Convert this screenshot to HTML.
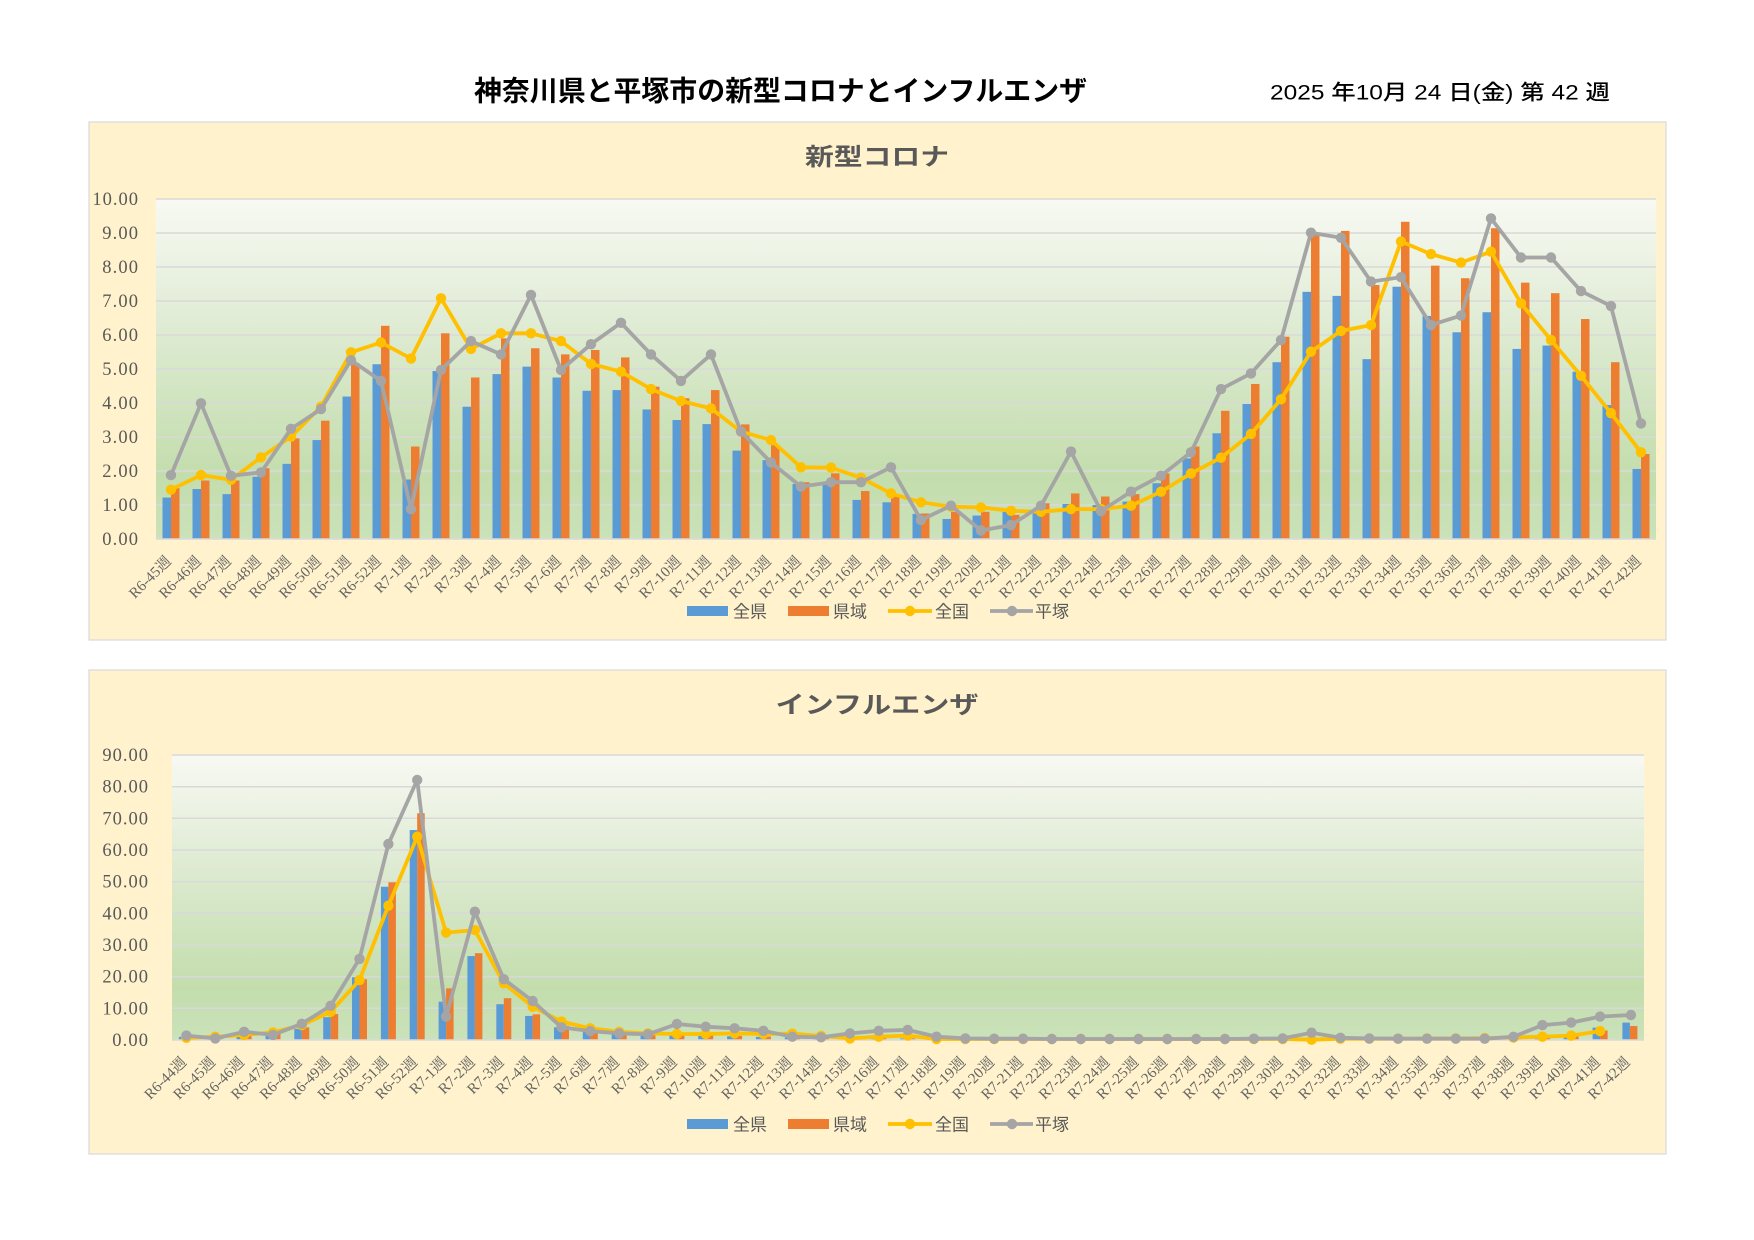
<!DOCTYPE html>
<html lang="ja"><head><meta charset="utf-8"><title>神奈川県と平塚市の新型コロナとインフルエンザ</title>
<style>html,body{margin:0;padding:0;background:#fff}svg{display:block}</style></head>
<body>
<svg xmlns="http://www.w3.org/2000/svg" width="1754" height="1240" viewBox="0 0 1754 1240">
<defs>
<linearGradient id="pg" x1="0" y1="0" x2="0" y2="1">
<stop offset="0" stop-color="#F8F9F3"/><stop offset="0.3" stop-color="#E4EEDA"/><stop offset="0.6" stop-color="#D0E4BF"/><stop offset="0.82" stop-color="#C3DDAD"/><stop offset="1" stop-color="#CBE2BA"/>
</linearGradient>
<marker id="my" viewBox="-6 -6 12 12" markerWidth="12" markerHeight="12" refX="0" refY="0" markerUnits="userSpaceOnUse"><circle r="5.2" fill="#FFC000"/></marker>
<marker id="mg" viewBox="-6 -6 12 12" markerWidth="12" markerHeight="12" refX="0" refY="0" markerUnits="userSpaceOnUse"><circle r="5.2" fill="#A5A5A5"/></marker>
</defs>
<rect width="1754" height="1240" fill="#fff"/>
<text x="474" y="100.5" font-family="Liberation Sans, Noto Sans CJK JP, sans-serif" font-size="28" font-weight="bold" fill="#000" textLength="613" lengthAdjust="spacingAndGlyphs">神奈川県と平塚市の新型コロナとインフルエンザ</text>
<text x="1270" y="99.5" font-family="Liberation Sans, Noto Sans CJK JP, sans-serif" font-size="21" font-weight="500" fill="#000" textLength="340" lengthAdjust="spacingAndGlyphs">2025 年10月 24 日(金) 第 42 週</text>

<!-- ===== Chart 1 ===== -->
<rect x="89" y="122" width="1577" height="518" fill="#FFF2CC" stroke="#D9D9D9" stroke-width="1.2"/>
<text x="877" y="165" text-anchor="middle" font-family="Liberation Sans, Noto Sans CJK JP, sans-serif" font-size="24" font-weight="bold" fill="#595959" textLength="144" lengthAdjust="spacingAndGlyphs">新型コロナ</text>
<rect x="156" y="199" width="1500" height="340" fill="url(#pg)"/>
<g stroke="#D9D9D9" stroke-width="1.5">
<line x1="156" y1="505" x2="1656" y2="505"/><line x1="156" y1="471" x2="1656" y2="471"/><line x1="156" y1="437" x2="1656" y2="437"/><line x1="156" y1="403" x2="1656" y2="403"/><line x1="156" y1="369" x2="1656" y2="369"/><line x1="156" y1="335" x2="1656" y2="335"/><line x1="156" y1="301" x2="1656" y2="301"/><line x1="156" y1="267" x2="1656" y2="267"/><line x1="156" y1="233" x2="1656" y2="233"/><line x1="156" y1="199" x2="1656" y2="199"/>
</g>
<g font-family="Liberation Serif, serif" font-size="18.5" fill="#595959" text-anchor="end" lengthAdjust="spacingAndGlyphs">
<text x="138" y="545" textLength="35.7">0.00</text><text x="138" y="511" textLength="35.7">1.00</text><text x="138" y="477" textLength="35.7">2.00</text><text x="138" y="443" textLength="35.7">3.00</text><text x="138" y="409" textLength="35.7">4.00</text><text x="138" y="375" textLength="35.7">5.00</text><text x="138" y="341" textLength="35.7">6.00</text><text x="138" y="307" textLength="35.7">7.00</text><text x="138" y="273" textLength="35.7">8.00</text><text x="138" y="239" textLength="35.7">9.00</text><text x="138" y="205" textLength="45.6">10.00</text>
</g>
<g transform="translate(0,539) scale(1,-34)">
<g fill="#5B9BD5">
<rect x="162.5" y="0" width="8.5" height="1.22"/><rect x="192.5" y="0" width="8.5" height="1.47"/><rect x="222.5" y="0" width="8.5" height="1.32"/><rect x="252.5" y="0" width="8.5" height="1.83"/><rect x="282.5" y="0" width="8.5" height="2.21"/><rect x="312.5" y="0" width="8.5" height="2.91"/><rect x="342.5" y="0" width="8.5" height="4.19"/><rect x="372.5" y="0" width="8.5" height="5.14"/><rect x="402.5" y="0" width="8.5" height="1.75"/><rect x="432.5" y="0" width="8.5" height="4.94"/><rect x="462.5" y="0" width="8.5" height="3.89"/><rect x="492.5" y="0" width="8.5" height="4.85"/><rect x="522.5" y="0" width="8.5" height="5.07"/><rect x="552.5" y="0" width="8.5" height="4.75"/><rect x="582.5" y="0" width="8.5" height="4.36"/><rect x="612.5" y="0" width="8.5" height="4.38"/><rect x="642.5" y="0" width="8.5" height="3.81"/><rect x="672.5" y="0" width="8.5" height="3.50"/><rect x="702.5" y="0" width="8.5" height="3.38"/><rect x="732.5" y="0" width="8.5" height="2.60"/><rect x="762.5" y="0" width="8.5" height="2.32"/><rect x="792.5" y="0" width="8.5" height="1.62"/><rect x="822.5" y="0" width="8.5" height="1.64"/><rect x="852.5" y="0" width="8.5" height="1.15"/><rect x="882.5" y="0" width="8.5" height="1.08"/><rect x="912.5" y="0" width="8.5" height="0.74"/><rect x="942.5" y="0" width="8.5" height="0.59"/><rect x="972.5" y="0" width="8.5" height="0.69"/><rect x="1002.5" y="0" width="8.5" height="0.80"/><rect x="1032.5" y="0" width="8.5" height="0.85"/><rect x="1062.5" y="0" width="8.5" height="1.03"/><rect x="1092.5" y="0" width="8.5" height="1.00"/><rect x="1122.5" y="0" width="8.5" height="1.10"/><rect x="1152.5" y="0" width="8.5" height="1.64"/><rect x="1182.5" y="0" width="8.5" height="2.37"/><rect x="1212.5" y="0" width="8.5" height="3.11"/><rect x="1242.5" y="0" width="8.5" height="3.97"/><rect x="1272.5" y="0" width="8.5" height="5.20"/><rect x="1302.5" y="0" width="8.5" height="7.27"/><rect x="1332.5" y="0" width="8.5" height="7.15"/><rect x="1362.5" y="0" width="8.5" height="5.29"/><rect x="1392.5" y="0" width="8.5" height="7.42"/><rect x="1422.5" y="0" width="8.5" height="6.56"/><rect x="1452.5" y="0" width="8.5" height="6.08"/><rect x="1482.5" y="0" width="8.5" height="6.67"/><rect x="1512.5" y="0" width="8.5" height="5.59"/><rect x="1542.5" y="0" width="8.5" height="5.69"/><rect x="1572.5" y="0" width="8.5" height="4.92"/><rect x="1602.5" y="0" width="8.5" height="3.94"/><rect x="1632.5" y="0" width="8.5" height="2.06"/>
</g>
<g fill="#ED7D31">
<rect x="171" y="0" width="8.5" height="1.50"/><rect x="201" y="0" width="8.5" height="1.72"/><rect x="231" y="0" width="8.5" height="1.72"/><rect x="261" y="0" width="8.5" height="2.08"/><rect x="291" y="0" width="8.5" height="2.96"/><rect x="321" y="0" width="8.5" height="3.48"/><rect x="351" y="0" width="8.5" height="5.17"/><rect x="381" y="0" width="8.5" height="6.27"/><rect x="411" y="0" width="8.5" height="2.72"/><rect x="441" y="0" width="8.5" height="6.05"/><rect x="471" y="0" width="8.5" height="4.75"/><rect x="501" y="0" width="8.5" height="5.90"/><rect x="531" y="0" width="8.5" height="5.61"/><rect x="561" y="0" width="8.5" height="5.43"/><rect x="591" y="0" width="8.5" height="5.56"/><rect x="621" y="0" width="8.5" height="5.34"/><rect x="651" y="0" width="8.5" height="4.48"/><rect x="681" y="0" width="8.5" height="4.14"/><rect x="711" y="0" width="8.5" height="4.38"/><rect x="741" y="0" width="8.5" height="3.37"/><rect x="771" y="0" width="8.5" height="2.76"/><rect x="801" y="0" width="8.5" height="1.67"/><rect x="831" y="0" width="8.5" height="1.93"/><rect x="861" y="0" width="8.5" height="1.41"/><rect x="891" y="0" width="8.5" height="1.25"/><rect x="921" y="0" width="8.5" height="0.75"/><rect x="951" y="0" width="8.5" height="0.80"/><rect x="981" y="0" width="8.5" height="0.80"/><rect x="1011" y="0" width="8.5" height="0.71"/><rect x="1041" y="0" width="8.5" height="1.05"/><rect x="1071" y="0" width="8.5" height="1.34"/><rect x="1101" y="0" width="8.5" height="1.25"/><rect x="1131" y="0" width="8.5" height="1.32"/><rect x="1161" y="0" width="8.5" height="1.93"/><rect x="1191" y="0" width="8.5" height="2.72"/><rect x="1221" y="0" width="8.5" height="3.77"/><rect x="1251" y="0" width="8.5" height="4.56"/><rect x="1281" y="0" width="8.5" height="5.95"/><rect x="1311" y="0" width="8.5" height="8.95"/><rect x="1341" y="0" width="8.5" height="9.06"/><rect x="1371" y="0" width="8.5" height="7.47"/><rect x="1401" y="0" width="8.5" height="9.33"/><rect x="1431" y="0" width="8.5" height="8.04"/><rect x="1461" y="0" width="8.5" height="7.67"/><rect x="1491" y="0" width="8.5" height="9.14"/><rect x="1521" y="0" width="8.5" height="7.54"/><rect x="1551" y="0" width="8.5" height="7.23"/><rect x="1581" y="0" width="8.5" height="6.47"/><rect x="1611" y="0" width="8.5" height="5.20"/><rect x="1641" y="0" width="8.5" height="2.50"/>
</g>
</g>
<line x1="156" y1="539" x2="1656" y2="539" stroke="#D9D9D9" stroke-width="1.5"/>
<polyline fill="none" stroke="#FFC000" stroke-width="3.8" stroke-linejoin="round" stroke-linecap="round" marker-start="url(#my)" marker-mid="url(#my)" marker-end="url(#my)" points="171,489.7 201,475.1 231,479.8 261,457.4 291,436.7 321,406.7 351,352.3 381,342.5 411,358.5 441,298.3 471,348.9 501,333.3 531,333.3 561,341.1 591,363.9 621,371.7 651,389.1 681,401.0 711,408.4 741,431.6 771,440.1 801,467.3 831,467.6 861,477.8 891,493.4 921,502.3 951,506.7 981,507.4 1011,510.8 1041,511.8 1071,509.1 1101,509.1 1131,505.7 1161,491.7 1191,473.4 1221,457.7 1251,433.9 1281,399.3 1311,351.7 1341,330.9 1371,325.1 1401,241.5 1431,254.1 1461,262.6 1491,251.7 1521,303.4 1551,340.1 1581,375.8 1611,413.2 1641,452.3"/>
<polyline fill="none" stroke="#A5A5A5" stroke-width="3.8" stroke-linejoin="round" stroke-linecap="round" marker-start="url(#mg)" marker-mid="url(#mg)" marker-end="url(#mg)" points="171,475.1 201,403.3 231,475.8 261,472.4 291,428.8 321,409.1 351,360.2 381,380.9 411,509.1 441,370.0 471,341.1 501,354.4 531,294.9 561,370.0 591,344.2 621,322.8 651,354.4 681,380.9 711,354.4 741,431.6 771,462.5 801,486.6 831,482.2 861,482.2 891,467.3 921,520.0 951,505.7 981,530.5 1011,525.1 1041,505.7 1071,451.6 1101,511.1 1131,491.7 1161,475.8 1191,452.3 1221,389.1 1251,373.4 1281,340.1 1311,232.7 1341,237.8 1371,281.6 1401,277.2 1431,325.1 1461,315.6 1491,218.4 1521,257.5 1551,257.5 1581,291.1 1611,306.1 1641,423.4"/>
<g font-family="Liberation Serif, Noto Serif CJK SC, serif" font-size="15" fill="#636363" text-anchor="end">
<text transform="translate(172,562) rotate(-45)">R6-45週</text><text transform="translate(202,562) rotate(-45)">R6-46週</text><text transform="translate(232,562) rotate(-45)">R6-47週</text><text transform="translate(262,562) rotate(-45)">R6-48週</text><text transform="translate(292,562) rotate(-45)">R6-49週</text><text transform="translate(322,562) rotate(-45)">R6-50週</text><text transform="translate(352,562) rotate(-45)">R6-51週</text><text transform="translate(382,562) rotate(-45)">R6-52週</text><text transform="translate(412,562) rotate(-45)">R7-1週</text><text transform="translate(442,562) rotate(-45)">R7-2週</text><text transform="translate(472,562) rotate(-45)">R7-3週</text><text transform="translate(502,562) rotate(-45)">R7-4週</text><text transform="translate(532,562) rotate(-45)">R7-5週</text><text transform="translate(562,562) rotate(-45)">R7-6週</text><text transform="translate(592,562) rotate(-45)">R7-7週</text><text transform="translate(622,562) rotate(-45)">R7-8週</text><text transform="translate(652,562) rotate(-45)">R7-9週</text><text transform="translate(682,562) rotate(-45)">R7-10週</text><text transform="translate(712,562) rotate(-45)">R7-11週</text><text transform="translate(742,562) rotate(-45)">R7-12週</text><text transform="translate(772,562) rotate(-45)">R7-13週</text><text transform="translate(802,562) rotate(-45)">R7-14週</text><text transform="translate(832,562) rotate(-45)">R7-15週</text><text transform="translate(862,562) rotate(-45)">R7-16週</text><text transform="translate(892,562) rotate(-45)">R7-17週</text><text transform="translate(922,562) rotate(-45)">R7-18週</text><text transform="translate(952,562) rotate(-45)">R7-19週</text><text transform="translate(982,562) rotate(-45)">R7-20週</text><text transform="translate(1012,562) rotate(-45)">R7-21週</text><text transform="translate(1042,562) rotate(-45)">R7-22週</text><text transform="translate(1072,562) rotate(-45)">R7-23週</text><text transform="translate(1102,562) rotate(-45)">R7-24週</text><text transform="translate(1132,562) rotate(-45)">R7-25週</text><text transform="translate(1162,562) rotate(-45)">R7-26週</text><text transform="translate(1192,562) rotate(-45)">R7-27週</text><text transform="translate(1222,562) rotate(-45)">R7-28週</text><text transform="translate(1252,562) rotate(-45)">R7-29週</text><text transform="translate(1282,562) rotate(-45)">R7-30週</text><text transform="translate(1312,562) rotate(-45)">R7-31週</text><text transform="translate(1342,562) rotate(-45)">R7-32週</text><text transform="translate(1372,562) rotate(-45)">R7-33週</text><text transform="translate(1402,562) rotate(-45)">R7-34週</text><text transform="translate(1432,562) rotate(-45)">R7-35週</text><text transform="translate(1462,562) rotate(-45)">R7-36週</text><text transform="translate(1492,562) rotate(-45)">R7-37週</text><text transform="translate(1522,562) rotate(-45)">R7-38週</text><text transform="translate(1552,562) rotate(-45)">R7-39週</text><text transform="translate(1582,562) rotate(-45)">R7-40週</text><text transform="translate(1612,562) rotate(-45)">R7-41週</text><text transform="translate(1642,562) rotate(-45)">R7-42週</text>
</g>
<g font-family="Liberation Sans, Noto Sans CJK JP, sans-serif" font-size="17" fill="#595959">
<rect x="687" y="606" width="41" height="10" fill="#5B9BD5"/><text x="733" y="617.5">全県</text>
<rect x="788" y="606" width="41" height="10" fill="#ED7D31"/><text x="833" y="617.5">県域</text>
<line x1="888" y1="611" x2="932" y2="611" stroke="#FFC000" stroke-width="3.8"/><circle cx="910" cy="611" r="5.2" fill="#FFC000"/><text x="935" y="617.5">全国</text>
<line x1="990" y1="611" x2="1033" y2="611" stroke="#A5A5A5" stroke-width="3.8"/><circle cx="1012" cy="611" r="5.2" fill="#A5A5A5"/><text x="1035" y="617.5">平塚</text>
</g>

<!-- ===== Chart 2 ===== -->
<rect x="89" y="670" width="1577" height="484" fill="#FFF2CC" stroke="#D9D9D9" stroke-width="1.2"/>
<text x="877" y="713" text-anchor="middle" font-family="Liberation Sans, Noto Sans CJK JP, sans-serif" font-size="24" font-weight="bold" fill="#595959" textLength="203" lengthAdjust="spacingAndGlyphs">インフルエンザ</text>
<rect x="172" y="755" width="1472" height="285" fill="url(#pg)"/>
<g stroke="#D9D9D9" stroke-width="1.5">
<line x1="172" y1="1008.3" x2="1644" y2="1008.3"/><line x1="172" y1="976.7" x2="1644" y2="976.7"/><line x1="172" y1="945" x2="1644" y2="945"/><line x1="172" y1="913.3" x2="1644" y2="913.3"/><line x1="172" y1="881.7" x2="1644" y2="881.7"/><line x1="172" y1="850" x2="1644" y2="850"/><line x1="172" y1="818.3" x2="1644" y2="818.3"/><line x1="172" y1="786.7" x2="1644" y2="786.7"/><line x1="172" y1="755" x2="1644" y2="755"/>
</g>
<g font-family="Liberation Serif, serif" font-size="18.5" fill="#595959" text-anchor="end" lengthAdjust="spacingAndGlyphs">
<text x="148" y="1046" textLength="35.7">0.00</text><text x="148" y="1014.3" textLength="45.6">10.00</text><text x="148" y="982.7" textLength="45.6">20.00</text><text x="148" y="951" textLength="45.6">30.00</text><text x="148" y="919.3" textLength="45.6">40.00</text><text x="148" y="887.7" textLength="45.6">50.00</text><text x="148" y="856" textLength="45.6">60.00</text><text x="148" y="824.3" textLength="45.6">70.00</text><text x="148" y="792.7" textLength="45.6">80.00</text><text x="148" y="761" textLength="45.6">90.00</text>
</g>
<g transform="translate(0,1040) scale(1,-3.1667)">
<g fill="#5B9BD5">
<rect x="178.9" y="0" width="7.5" height="1.0"/><rect x="207.8" y="0" width="7.5" height="0.8"/><rect x="236.6" y="0" width="7.5" height="2.0"/><rect x="265.5" y="0" width="7.5" height="1.8"/><rect x="294.3" y="0" width="7.5" height="3.5"/><rect x="323.2" y="0" width="7.5" height="7.2"/><rect x="352.0" y="0" width="7.5" height="19.8"/><rect x="380.9" y="0" width="7.5" height="48.4"/><rect x="409.7" y="0" width="7.5" height="66.3"/><rect x="438.6" y="0" width="7.5" height="12.1"/><rect x="467.4" y="0" width="7.5" height="26.5"/><rect x="496.3" y="0" width="7.5" height="11.3"/><rect x="525.1" y="0" width="7.5" height="7.6"/><rect x="554.0" y="0" width="7.5" height="4.0"/><rect x="582.8" y="0" width="7.5" height="2.6"/><rect x="611.7" y="0" width="7.5" height="2.0"/><rect x="640.5" y="0" width="7.5" height="1.8"/><rect x="669.4" y="0" width="7.5" height="1.5"/><rect x="698.2" y="0" width="7.5" height="1.3"/><rect x="727.1" y="0" width="7.5" height="1.2"/><rect x="755.9" y="0" width="7.5" height="1.0"/><rect x="784.8" y="0" width="7.5" height="0.8"/><rect x="813.6" y="0" width="7.5" height="0.7"/><rect x="842.5" y="0" width="7.5" height="0.6"/><rect x="871.3" y="0" width="7.5" height="0.6"/><rect x="900.2" y="0" width="7.5" height="0.5"/><rect x="929.0" y="0" width="7.5" height="0.4"/><rect x="957.9" y="0" width="7.5" height="0.3"/><rect x="986.7" y="0" width="7.5" height="0.3"/><rect x="1015.6" y="0" width="7.5" height="0.3"/><rect x="1044.4" y="0" width="7.5" height="0.3"/><rect x="1073.3" y="0" width="7.5" height="0.3"/><rect x="1102.1" y="0" width="7.5" height="0.3"/><rect x="1131.0" y="0" width="7.5" height="0.3"/><rect x="1159.8" y="0" width="7.5" height="0.3"/><rect x="1188.7" y="0" width="7.5" height="0.3"/><rect x="1217.5" y="0" width="7.5" height="0.3"/><rect x="1246.4" y="0" width="7.5" height="0.3"/><rect x="1275.2" y="0" width="7.5" height="0.3"/><rect x="1304.1" y="0" width="7.5" height="0.3"/><rect x="1332.9" y="0" width="7.5" height="0.3"/><rect x="1361.8" y="0" width="7.5" height="0.3"/><rect x="1390.6" y="0" width="7.5" height="0.3"/><rect x="1419.5" y="0" width="7.5" height="0.3"/><rect x="1448.3" y="0" width="7.5" height="0.3"/><rect x="1477.2" y="0" width="7.5" height="0.3"/><rect x="1506.0" y="0" width="7.5" height="0.4"/><rect x="1534.9" y="0" width="7.5" height="0.6"/><rect x="1563.7" y="0" width="7.5" height="1.0"/><rect x="1592.6" y="0" width="7.5" height="3.9"/><rect x="1622.4" y="0" width="7.5" height="5.5"/>
</g>
<g fill="#ED7D31">
<rect x="186.4" y="0" width="7.5" height="1.0"/><rect x="215.3" y="0" width="7.5" height="1.0"/><rect x="244.1" y="0" width="7.5" height="2.5"/><rect x="273.0" y="0" width="7.5" height="2.2"/><rect x="301.8" y="0" width="7.5" height="4.0"/><rect x="330.7" y="0" width="7.5" height="8.2"/><rect x="359.5" y="0" width="7.5" height="19.2"/><rect x="388.4" y="0" width="7.5" height="49.8"/><rect x="417.2" y="0" width="7.5" height="71.6"/><rect x="446.1" y="0" width="7.5" height="16.3"/><rect x="474.9" y="0" width="7.5" height="27.4"/><rect x="503.8" y="0" width="7.5" height="13.2"/><rect x="532.6" y="0" width="7.5" height="8.1"/><rect x="561.5" y="0" width="7.5" height="4.5"/><rect x="590.3" y="0" width="7.5" height="3.0"/><rect x="619.2" y="0" width="7.5" height="2.2"/><rect x="648.0" y="0" width="7.5" height="2.0"/><rect x="676.9" y="0" width="7.5" height="1.6"/><rect x="705.7" y="0" width="7.5" height="1.4"/><rect x="734.6" y="0" width="7.5" height="1.3"/><rect x="763.4" y="0" width="7.5" height="1.1"/><rect x="792.3" y="0" width="7.5" height="0.9"/><rect x="821.1" y="0" width="7.5" height="0.8"/><rect x="850.0" y="0" width="7.5" height="0.7"/><rect x="878.8" y="0" width="7.5" height="0.6"/><rect x="907.7" y="0" width="7.5" height="0.5"/><rect x="936.5" y="0" width="7.5" height="0.4"/><rect x="965.4" y="0" width="7.5" height="0.3"/><rect x="994.2" y="0" width="7.5" height="0.3"/><rect x="1023.1" y="0" width="7.5" height="0.3"/><rect x="1051.9" y="0" width="7.5" height="0.3"/><rect x="1080.8" y="0" width="7.5" height="0.3"/><rect x="1109.6" y="0" width="7.5" height="0.3"/><rect x="1138.5" y="0" width="7.5" height="0.3"/><rect x="1167.3" y="0" width="7.5" height="0.3"/><rect x="1196.2" y="0" width="7.5" height="0.3"/><rect x="1225.0" y="0" width="7.5" height="0.3"/><rect x="1253.9" y="0" width="7.5" height="0.3"/><rect x="1282.7" y="0" width="7.5" height="0.3"/><rect x="1311.6" y="0" width="7.5" height="0.3"/><rect x="1340.4" y="0" width="7.5" height="0.3"/><rect x="1369.3" y="0" width="7.5" height="0.3"/><rect x="1398.1" y="0" width="7.5" height="0.3"/><rect x="1427.0" y="0" width="7.5" height="0.3"/><rect x="1455.8" y="0" width="7.5" height="0.3"/><rect x="1484.7" y="0" width="7.5" height="0.3"/><rect x="1513.5" y="0" width="7.5" height="0.5"/><rect x="1542.4" y="0" width="7.5" height="0.8"/><rect x="1571.2" y="0" width="7.5" height="1.3"/><rect x="1600.1" y="0" width="7.5" height="3.0"/><rect x="1629.9" y="0" width="7.5" height="4.4"/>
</g>
</g>
<line x1="172" y1="1040" x2="1644" y2="1040" stroke="#D9D9D9" stroke-width="1.5"/>
<polyline fill="none" stroke="#FFC000" stroke-width="3.8" stroke-linejoin="round" stroke-linecap="round" marker-start="url(#my)" marker-mid="url(#my)" marker-end="url(#my)" points="186.4,1037.8 215.3,1036.8 244.1,1034.9 273.0,1032.4 301.8,1025.1 330.7,1011.8 359.5,980.1 388.4,905.7 417.2,836.7 446.1,932.6 474.9,930.1 503.8,983.3 532.6,1006.7 561.5,1021.6 590.3,1028.3 619.2,1031.8 648.0,1033.4 676.9,1034.0 705.7,1034.0 734.6,1033.4 763.4,1034.0 792.3,1033.7 821.1,1035.9 850.0,1038.4 878.8,1036.7 907.7,1035.6 936.5,1039 965.4,1039 994.2,1039 1023.1,1039 1051.9,1039 1080.8,1039 1109.6,1039 1138.5,1039 1167.3,1039 1196.2,1039 1225.0,1039 1253.9,1039 1282.7,1039 1311.6,1039.7 1340.4,1038.7 1369.3,1038.7 1398.1,1038.7 1427.0,1038.4 1455.8,1038.4 1484.7,1038.1 1513.5,1037.5 1542.4,1036.7 1571.2,1035.6 1600.1,1031.1"/>
<polyline fill="none" stroke="#A5A5A5" stroke-width="3.8" stroke-linejoin="round" stroke-linecap="round" marker-start="url(#mg)" marker-mid="url(#mg)" marker-end="url(#mg)" points="186.4,1035.6 215.3,1038.4 244.1,1031.8 273.0,1034.9 301.8,1023.8 330.7,1005.8 359.5,958.9 388.4,844.0 417.2,780.0 446.1,1016.6 474.9,911.7 503.8,979.2 532.6,1001.0 561.5,1027.3 590.3,1031.1 619.2,1033.4 648.0,1034.3 676.9,1024.0 705.7,1026.7 734.6,1028.3 763.4,1030.8 792.3,1036.7 821.1,1037.3 850.0,1033.4 878.8,1030.8 907.7,1029.9 936.5,1036.7 965.4,1038.4 994.2,1038.7 1023.1,1038.7 1051.9,1039 1080.8,1039 1109.6,1039 1138.5,1039 1167.3,1039 1196.2,1039 1225.0,1039 1253.9,1038.7 1282.7,1038.4 1311.6,1032.7 1340.4,1037.8 1369.3,1038.4 1398.1,1038.7 1427.0,1038.7 1455.8,1038.7 1484.7,1038.7 1513.5,1036.8 1542.4,1025.1 1571.2,1022.6 1600.1,1016.6 1630.9,1015.0"/>
<g font-family="Liberation Serif, Noto Serif CJK SC, serif" font-size="15" fill="#636363" text-anchor="end">
<text transform="translate(187.4,1063) rotate(-45)">R6-44週</text><text transform="translate(216.3,1063) rotate(-45)">R6-45週</text><text transform="translate(245.1,1063) rotate(-45)">R6-46週</text><text transform="translate(274,1063) rotate(-45)">R6-47週</text><text transform="translate(302.8,1063) rotate(-45)">R6-48週</text><text transform="translate(331.7,1063) rotate(-45)">R6-49週</text><text transform="translate(360.5,1063) rotate(-45)">R6-50週</text><text transform="translate(389.4,1063) rotate(-45)">R6-51週</text><text transform="translate(418.2,1063) rotate(-45)">R6-52週</text><text transform="translate(447.1,1063) rotate(-45)">R7-1週</text><text transform="translate(475.9,1063) rotate(-45)">R7-2週</text><text transform="translate(504.8,1063) rotate(-45)">R7-3週</text><text transform="translate(533.6,1063) rotate(-45)">R7-4週</text><text transform="translate(562.5,1063) rotate(-45)">R7-5週</text><text transform="translate(591.3,1063) rotate(-45)">R7-6週</text><text transform="translate(620.2,1063) rotate(-45)">R7-7週</text><text transform="translate(649,1063) rotate(-45)">R7-8週</text><text transform="translate(677.9,1063) rotate(-45)">R7-9週</text><text transform="translate(706.7,1063) rotate(-45)">R7-10週</text><text transform="translate(735.6,1063) rotate(-45)">R7-11週</text><text transform="translate(764.4,1063) rotate(-45)">R7-12週</text><text transform="translate(793.3,1063) rotate(-45)">R7-13週</text><text transform="translate(822.1,1063) rotate(-45)">R7-14週</text><text transform="translate(851,1063) rotate(-45)">R7-15週</text><text transform="translate(879.8,1063) rotate(-45)">R7-16週</text><text transform="translate(908.7,1063) rotate(-45)">R7-17週</text><text transform="translate(937.5,1063) rotate(-45)">R7-18週</text><text transform="translate(966.4,1063) rotate(-45)">R7-19週</text><text transform="translate(995.2,1063) rotate(-45)">R7-20週</text><text transform="translate(1024.1,1063) rotate(-45)">R7-21週</text><text transform="translate(1052.9,1063) rotate(-45)">R7-22週</text><text transform="translate(1081.8,1063) rotate(-45)">R7-23週</text><text transform="translate(1110.6,1063) rotate(-45)">R7-24週</text><text transform="translate(1139.5,1063) rotate(-45)">R7-25週</text><text transform="translate(1168.3,1063) rotate(-45)">R7-26週</text><text transform="translate(1197.2,1063) rotate(-45)">R7-27週</text><text transform="translate(1226,1063) rotate(-45)">R7-28週</text><text transform="translate(1254.9,1063) rotate(-45)">R7-29週</text><text transform="translate(1283.7,1063) rotate(-45)">R7-30週</text><text transform="translate(1312.6,1063) rotate(-45)">R7-31週</text><text transform="translate(1341.4,1063) rotate(-45)">R7-32週</text><text transform="translate(1370.3,1063) rotate(-45)">R7-33週</text><text transform="translate(1399.1,1063) rotate(-45)">R7-34週</text><text transform="translate(1428,1063) rotate(-45)">R7-35週</text><text transform="translate(1456.8,1063) rotate(-45)">R7-36週</text><text transform="translate(1485.7,1063) rotate(-45)">R7-37週</text><text transform="translate(1514.5,1063) rotate(-45)">R7-38週</text><text transform="translate(1543.4,1063) rotate(-45)">R7-39週</text><text transform="translate(1572.2,1063) rotate(-45)">R7-40週</text><text transform="translate(1601.1,1063) rotate(-45)">R7-41週</text><text transform="translate(1630.9,1063) rotate(-45)">R7-42週</text>
</g>
<g font-family="Liberation Sans, Noto Sans CJK JP, sans-serif" font-size="17" fill="#595959">
<rect x="687" y="1119" width="41" height="10" fill="#5B9BD5"/><text x="733" y="1130.5">全県</text>
<rect x="788" y="1119" width="41" height="10" fill="#ED7D31"/><text x="833" y="1130.5">県域</text>
<line x1="888" y1="1124" x2="932" y2="1124" stroke="#FFC000" stroke-width="3.8"/><circle cx="910" cy="1124" r="5.2" fill="#FFC000"/><text x="935" y="1130.5">全国</text>
<line x1="990" y1="1124" x2="1033" y2="1124" stroke="#A5A5A5" stroke-width="3.8"/><circle cx="1012" cy="1124" r="5.2" fill="#A5A5A5"/><text x="1035" y="1130.5">平塚</text>
</g>
</svg>
</body></html>
